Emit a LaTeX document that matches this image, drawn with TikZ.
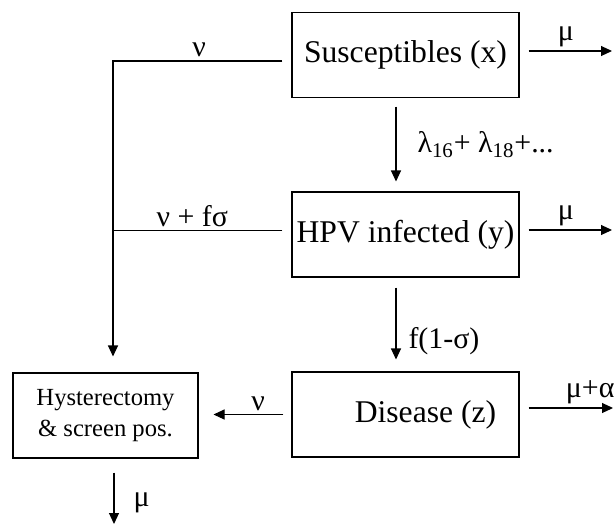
\documentclass[tikz,border=0pt]{standalone}
\usepackage{fontspec}
\setmainfont{Liberation Serif}
\usetikzlibrary{arrows.meta,positioning}

\begin{document}
\begin{tikzpicture}[
  box/.style={draw, line width=0.6pt, minimum width=4.54cm, minimum height=1.7cm, inner sep=0pt, font=\fontsize{18}{21}\selectfont},
  smallbox/.style={draw, line width=0.6pt, minimum width=3.7cm, minimum height=1.7cm, inner sep=0pt, align=center, font=\fontsize{14}{17.6}\selectfont},
  flow/.style={line width=0.6pt, -{Triangle[length=0.22cm,width=0.2cm]}},
  rate/.style={font=\fontsize{17}{20}\selectfont, inner sep=2pt}
]
% Set the frame (616 x 525 px, 1px = 0.02cm)
\useasboundingbox (0,0) rectangle (12.32,-10.5);

% Compartments
\node[box] (sus) at (8.11,-1.10) {Susceptibles (x)};
\node[box] (hpv) at (8.11,-4.69) {HPV infected (y)};
\node[box] (dis) at (8.11,-8.29) {\hspace{0.8cm}Disease (z)};
\node[smallbox] (hys) at (2.11,-8.31) {Hysterectomy\\\& screen pos.};

% Free ends and the joining line
\coordinate (join) at (2.26,-1.22);
\coordinate (hpvIn) at ([yshift=0.08cm]hpv.west);
\coordinate (susOut) at (12.24,-1.02);
\coordinate (hpvOut) at (12.24,-4.60);
\coordinate (disOut) at (12.26,-8.16);
\coordinate (hysOut) at (2.28,-10.48);

% Flows down the chain
\draw[flow, shorten <=0.17cm, shorten >=0.2cm] ([xshift=-0.19cm]sus.south) -- ([xshift=-0.19cm]hpv.north)
  node[rate, midway, right=0.35cm] {λ\textsubscript{16}+ λ\textsubscript{18}+...};
\draw[flow, shorten <=0.2cm, shorten >=0.24cm] ([xshift=-0.19cm]hpv.south) -- ([xshift=-0.19cm]dis.north)
  node[rate, pos=0.68, right=0.17cm] {f(1-σ)};

% Flows into hysterectomy
\draw[flow, shorten <=0.18cm, shorten >=0.32cm] ([yshift=-0.12cm]sus.west) -| (join |- hys.north)
  node[rate, pos=0.25, above, xshift=-0.06cm] {ν};
\draw[line width=0.6pt, shorten <=0.18cm] (hpvIn) -- (join |- hpvIn)
  node[rate, midway, above, xshift=-0.2cm] {ν + fσ};
\draw[flow, shorten <=0.16cm, shorten >=0.3cm] (dis.west) -- (dis.west -| hys.east)
  node[rate, pos=0.36, above] {ν};

% Deaths
\draw[flow, shorten <=0.18cm] (sus.east |- susOut) -- (susOut) node[rate, midway, above] {μ};
\draw[flow, shorten <=0.18cm] (hpv.east |- hpvOut) -- (hpvOut) node[rate, midway, above] {μ};
\draw[flow, shorten <=0.18cm] (dis.east |- disOut) -- (disOut) node[rate, pos=1, above left, xshift=0.11cm] {μ+α};
\draw[flow, shorten <=0.28cm] (hys.south -| hysOut) -- (hysOut) node[rate, pos=0.68, right=0.31cm] {μ};
\end{tikzpicture}
\end{document}
